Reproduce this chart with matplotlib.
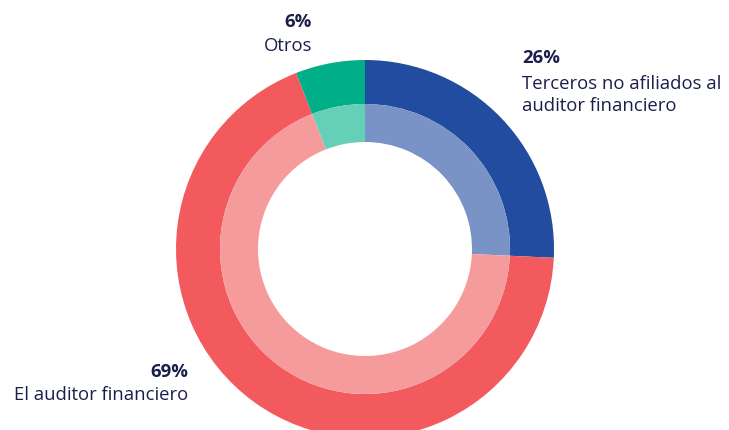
import matplotlib
matplotlib.use("Agg")
import matplotlib.pyplot as plt

categories = ["Terceros no afiliados al\nauditor financiero", "El auditor financiero", "Otros"]
values = [26, 69, 6]
pct_labels = ["26%", "69%", "6%"]

outer_colors = ["#224C9F", "#F35A5E", "#00AF87"]
inner_colors = ["#7A93C6", "#F59B9B", "#66CFB7"]
text_color = "#1B1F4B"

W, H = 729, 430
fig = plt.figure(figsize=(W / 100, H / 100), dpi=100)
ax = fig.add_axes([0, 0, 1, 1])

cx, cy = 365, H - 249
R_out, R_mid, R_in = 189, 145, 107

ax.pie(values, radius=R_out, center=(cx, cy), colors=outer_colors, startangle=90,
       counterclock=False, wedgeprops=dict(width=R_out - R_mid, linewidth=0), frame=True)
ax.pie(values, radius=R_mid, center=(cx, cy), colors=inner_colors, startangle=90,
       counterclock=False, wedgeprops=dict(width=R_mid - R_in, linewidth=0), frame=True)
ax.set_xlim(0, W)
ax.set_ylim(0, H)
ax.set_aspect("equal")
ax.axis("off")

font = "Open Sans"
fs = 13.3

def y(py):
    return H - py

# Terceros
ax.text(522, y(58), pct_labels[0], fontsize=fs, fontweight="bold", color=text_color,
        family=font, ha="left", va="center")
ax.text(522, y(95), categories[0], fontsize=fs, color=text_color, family=font,
        ha="left", va="center", linespacing=1.28)
# El auditor
ax.text(188, y(372), pct_labels[1], fontsize=fs, fontweight="bold", color=text_color,
        family=font, ha="right", va="center")
ax.text(188, y(395), categories[1], fontsize=fs, color=text_color, family=font,
        ha="right", va="center")
# Otros
ax.text(312, y(22), pct_labels[2], fontsize=fs, fontweight="bold", color=text_color,
        family=font, ha="right", va="center")
ax.text(312, y(46), categories[2], fontsize=fs, color=text_color, family=font,
        ha="right", va="center")

fig.savefig("out.png", dpi=100, facecolor="white")
